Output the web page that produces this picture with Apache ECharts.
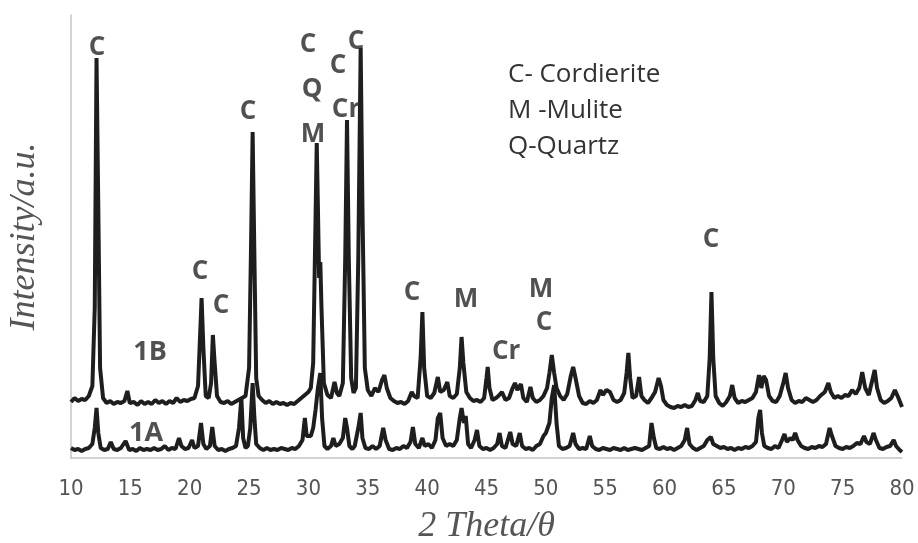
<!DOCTYPE html>
<html>
<head>
<meta charset="utf-8">
<script src="https://cdn.jsdelivr.net/npm/echarts@6/dist/echarts.min.js"></script>
<style>html,body{margin:0;padding:0;background:#fff}#c{width:918px;height:543px}</style>
</head>
<body>
<div id="c"></div>
<script>
// x ticks (2θ)
const xTicks = [10, 15, 20, 25, 30, 35, 40, 45, 50, 55, 60, 65, 70, 75, 80];

// Sample 1B pattern [2θ, intensity a.u.]
const trace1B = [[10.0,56],[10.3,60],[10.6,57],[10.9,59],[11.2,58],[11.5,62],[11.8,72],[12.0,150],[12.15,400],[12.3,250],[12.45,90],[12.7,60],[13.0,55],[13.3,57],[13.6,54],[13.9,56],[14.2,55],[14.5,57],[14.75,67],[14.95,55],[15.3,56],[15.6,53],[15.9,57],[16.2,54],[16.5,56],[16.8,54],[17.1,58],[17.4,55],[17.7,57],[18.0,54],[18.3,57],[18.6,55],[18.9,60],[19.2,56],[19.5,58],[19.8,57],[20.1,59],[20.4,60],[20.7,72],[20.9,130],[21.0,160],[21.15,110],[21.35,62],[21.6,60],[21.8,75],[21.95,123],[22.1,95],[22.3,62],[22.6,56],[22.9,55],[23.2,57],[23.5,54],[23.8,56],[24.1,58],[24.4,60],[24.7,62],[25.0,90],[25.15,200],[25.3,326],[25.45,200],[25.6,80],[25.8,62],[26.1,58],[26.4,55],[26.7,57],[27.0,54],[27.3,56],[27.6,54],[27.9,55],[28.2,53],[28.5,55],[28.8,54],[29.1,57],[29.4,60],[29.7,63],[30.0,66],[30.2,70],[30.4,95],[30.6,240],[30.7,315],[30.8,250],[30.9,180],[31.0,196],[31.1,150],[31.3,75],[31.6,63],[31.9,60],[32.2,76],[32.4,65],[32.6,62],[32.9,75],[33.1,200],[33.25,338],[33.4,200],[33.6,80],[33.8,65],[34.0,70],[34.2,200],[34.4,410],[34.55,250],[34.75,90],[35.0,68],[35.3,62],[35.6,70],[35.9,66],[36.2,78],[36.4,83],[36.6,70],[36.9,60],[37.2,57],[37.5,55],[37.8,56],[38.1,54],[38.4,57],[38.7,66],[38.9,62],[39.2,60],[39.45,100],[39.6,146],[39.75,90],[40.0,62],[40.3,60],[40.6,65],[40.9,81],[41.1,66],[41.4,68],[41.7,76],[41.9,62],[42.2,60],[42.5,64],[42.75,90],[42.9,121],[43.05,95],[43.3,66],[43.6,60],[43.9,57],[44.2,58],[44.5,56],[44.8,60],[45.0,80],[45.1,91],[45.25,70],[45.5,58],[45.8,60],[46.0,62],[46.3,66],[46.6,58],[46.9,60],[47.2,70],[47.4,75],[47.6,68],[47.9,74],[48.1,60],[48.4,56],[48.7,71],[48.9,60],[49.2,56],[49.5,58],[49.8,62],[50.1,70],[50.3,85],[50.5,103],[50.7,85],[50.9,70],[51.2,62],[51.5,58],[51.8,64],[52.1,82],[52.3,91],[52.5,80],[52.8,62],[53.1,55],[53.4,54],[53.7,57],[54.0,55],[54.3,58],[54.6,68],[54.8,63],[55.1,68],[55.4,66],[55.7,58],[56.0,56],[56.3,58],[56.6,65],[56.8,85],[56.95,105],[57.1,80],[57.3,60],[57.6,62],[57.85,81],[58.05,62],[58.3,58],[58.6,55],[58.9,60],[59.2,66],[59.5,80],[59.7,72],[59.9,58],[60.2,53],[60.5,51],[60.8,50],[61.1,52],[61.4,51],[61.7,53],[62.0,51],[62.3,52],[62.6,58],[62.8,65],[63.0,57],[63.3,56],[63.6,62],[63.8,100],[63.95,166],[64.1,100],[64.3,62],[64.6,55],[64.9,52],[65.2,56],[65.5,62],[65.7,73],[65.9,60],[66.2,55],[66.5,57],[66.8,56],[67.1,58],[67.4,60],[67.7,66],[67.95,83],[68.15,70],[68.35,82],[68.55,78],[68.8,62],[69.1,57],[69.4,56],[69.7,62],[70.0,75],[70.2,85],[70.4,70],[70.7,58],[71.0,55],[71.3,57],[71.6,56],[71.9,60],[72.2,58],[72.5,56],[72.8,58],[73.1,62],[73.5,66],[73.8,75],[74.0,66],[74.3,60],[74.6,62],[74.9,60],[75.2,63],[75.5,62],[75.8,68],[76.1,64],[76.4,70],[76.65,86],[76.9,70],[77.2,63],[77.5,78],[77.7,88],[77.9,70],[78.2,58],[78.5,55],[78.8,57],[79.1,60],[79.4,68],[79.7,60],[80.0,51]];

// Sample 1A pattern [2θ, intensity a.u.]
const trace1A = [[10.0,10],[10.3,8],[10.6,9],[10.9,7],[11.2,9],[11.5,10],[11.8,14],[12.0,30],[12.15,50],[12.3,25],[12.5,10],[12.8,8],[13.1,9],[13.35,16],[13.6,9],[13.9,8],[14.2,10],[14.6,17],[14.9,8],[15.2,9],[15.5,7],[15.8,10],[16.1,8],[16.4,9],[16.7,8],[17.0,10],[17.3,8],[17.6,9],[17.9,12],[18.2,8],[18.5,10],[18.8,9],[19.1,20],[19.3,12],[19.6,9],[19.9,10],[20.2,18],[20.4,10],[20.7,12],[20.95,35],[21.15,14],[21.4,9],[21.7,12],[21.9,31],[22.1,12],[22.4,8],[22.7,9],[23.0,7],[23.3,9],[23.6,10],[23.9,12],[24.15,30],[24.35,60],[24.5,20],[24.7,10],[24.9,12],[25.1,30],[25.3,75],[25.45,40],[25.6,14],[25.9,10],[26.2,8],[26.5,10],[26.8,8],[27.1,9],[27.4,8],[27.7,10],[28.0,9],[28.3,8],[28.6,10],[28.9,9],[29.2,12],[29.5,18],[29.7,40],[29.85,22],[30.0,20],[30.2,22],[30.4,30],[30.6,48],[30.8,70],[31.0,85],[31.15,40],[31.35,12],[31.6,9],[31.9,12],[32.1,20],[32.3,12],[32.6,14],[32.9,20],[33.1,40],[33.25,30],[33.45,12],[33.7,9],[33.9,12],[34.2,30],[34.4,45],[34.55,20],[34.8,10],[35.1,9],[35.4,12],[35.7,9],[36.0,12],[36.3,30],[36.5,18],[36.8,9],[37.1,8],[37.4,10],[37.7,9],[38.0,12],[38.3,10],[38.6,16],[38.8,31],[39.0,14],[39.3,10],[39.6,20],[39.8,12],[40.1,14],[40.4,10],[40.7,18],[40.9,40],[41.1,45],[41.3,20],[41.6,12],[41.9,14],[42.2,12],[42.5,18],[42.75,40],[42.9,50],[43.1,35],[43.25,42],[43.45,14],[43.7,10],[44.0,18],[44.2,28],[44.4,12],[44.7,9],[45.0,10],[45.3,8],[45.6,10],[45.9,14],[46.1,25],[46.3,12],[46.6,10],[46.8,18],[47.0,26],[47.2,14],[47.5,12],[47.8,25],[48.0,12],[48.3,9],[48.6,10],[48.9,8],[49.2,12],[49.5,14],[49.8,22],[50.0,25],[50.3,35],[50.5,60],[50.7,73],[50.9,35],[51.1,12],[51.4,9],[51.7,10],[52.0,12],[52.3,25],[52.5,14],[52.8,9],[53.1,10],[53.4,9],[53.7,22],[53.9,12],[54.2,9],[54.5,8],[54.8,10],[55.1,9],[55.4,8],[55.7,10],[56.0,9],[56.3,8],[56.6,10],[56.9,8],[57.2,9],[57.5,10],[57.8,9],[58.1,8],[58.4,10],[58.7,12],[58.9,35],[59.1,20],[59.3,10],[59.6,9],[59.9,11],[60.2,9],[60.5,10],[60.8,8],[61.1,10],[61.4,12],[61.7,18],[61.9,30],[62.1,14],[62.4,10],[62.7,8],[63.0,10],[63.3,12],[63.6,18],[63.9,21],[64.1,14],[64.4,12],[64.7,10],[65.0,11],[65.3,9],[65.6,10],[65.9,8],[66.2,10],[66.5,9],[66.8,11],[67.1,10],[67.4,12],[67.7,16],[67.9,40],[68.05,48],[68.2,25],[68.4,12],[68.7,10],[69.0,9],[69.3,12],[69.6,10],[69.9,18],[70.1,24],[70.3,16],[70.6,20],[70.8,18],[71.0,25],[71.2,18],[71.5,12],[71.8,10],[72.1,9],[72.4,11],[72.7,10],[73.0,12],[73.3,11],[73.6,14],[73.9,30],[74.1,22],[74.4,12],[74.7,10],[75.0,9],[75.3,11],[75.6,10],[75.9,12],[76.2,15],[76.5,14],[76.8,22],[77.0,16],[77.3,14],[77.6,25],[77.8,18],[78.1,10],[78.4,9],[78.7,11],[79.0,12],[79.3,18],[79.5,12],[79.8,8],[80.0,6]];

// Phase labels [text, 2θ, intensity]
const peakLabels = [["C",12.19,410],["C",29.97,413],["Q",30.3,368],["M",30.39,323],["C",32.49,392],["Cr",33.17,348],["C",34.0,416],["C",24.91,346],["C",20.87,186],["C",22.64,152],["C",38.73,165],["M",43.28,158],["Cr",46.65,106],["M",49.6,168],["C",49.85,135],["C",63.92,218]];
// Sample labels [text, 2θ, intensity]
const sampleLabels = [["1B",16.66,106],["1A",16.32,25]];
// Legend key lines
const keyLines = ["C- Cordierite", "M -Mulite", "Q-Quartz"];

const chart = echarts.init(document.getElementById('c'));
const lineStyle = {color: '#1e1e1e', width: 4};
const labelSeries = (arr, size) => ({
  type: 'scatter', symbolSize: 2, itemStyle: {color: 'rgba(0,0,0,0)'}, z: 5, silent: true,
  data: arr.map(d => ({name: d[0], value: [d[1], d[2]]})),
  label: {show: true, position: 'inside', formatter: p => p.name,
          fontFamily: "'Open Sans','Noto Sans',sans-serif", fontWeight: 'bold', fontSize: size, color: '#262626'}
});
chart.setOption({
  animation: false,
  grid: {left: 71, right: 16, top: 15, bottom: 85, containLabel: false, outerBoundsMode: 'none'},
  xAxis: {
    type: 'value', min: 10, max: 80, interval: 5,
    axisLine: {show: true, lineStyle: {color: '#c4c4c4', width: 1.5}},
    axisTick: {show: false}, splitLine: {show: false},
    axisLabel: {
      margin: 20, color: '#555', fontSize: 22,
      fontFamily: "'Liberation Sans Narrow','DejaVu Sans Condensed',sans-serif",
      formatter: v => xTicks.includes(v) ? String(v) : ''
    },
    name: '2 Theta/θ', nameLocation: 'middle', nameGap: 51,
    nameTextStyle: {fontFamily: "'Liberation Serif',serif", fontStyle: 'italic', fontSize: 36, color: '#555'}
  },
  yAxis: {
    type: 'value', min: 0, max: 443,
    axisLine: {show: true, lineStyle: {color: '#c4c4c4', width: 1.5}},
    axisTick: {show: false}, axisLabel: {show: false}, splitLine: {show: false},
    name: 'Intensity/a.u.', nameLocation: 'middle', nameGap: 28,
    nameTextStyle: {fontFamily: "'Liberation Serif',serif", fontStyle: 'italic', fontSize: 36, color: '#555'}
  },
  series: [
    {type: 'line', data: trace1A, showSymbol: false, lineStyle: lineStyle, z: 2},
    {type: 'line', data: trace1B, showSymbol: false, lineStyle: lineStyle, z: 3},
    labelSeries(peakLabels, 26),
    labelSeries(sampleLabels, 27)
  ],
  graphic: keyLines.map((t, i) => ({
    type: 'text', left: 508, top: 62 + i * 36,
    style: {text: t, font: "26px 'Open Sans','Noto Sans',sans-serif", fill: '#333'}
  }))
});
</script>
</body>
</html>
